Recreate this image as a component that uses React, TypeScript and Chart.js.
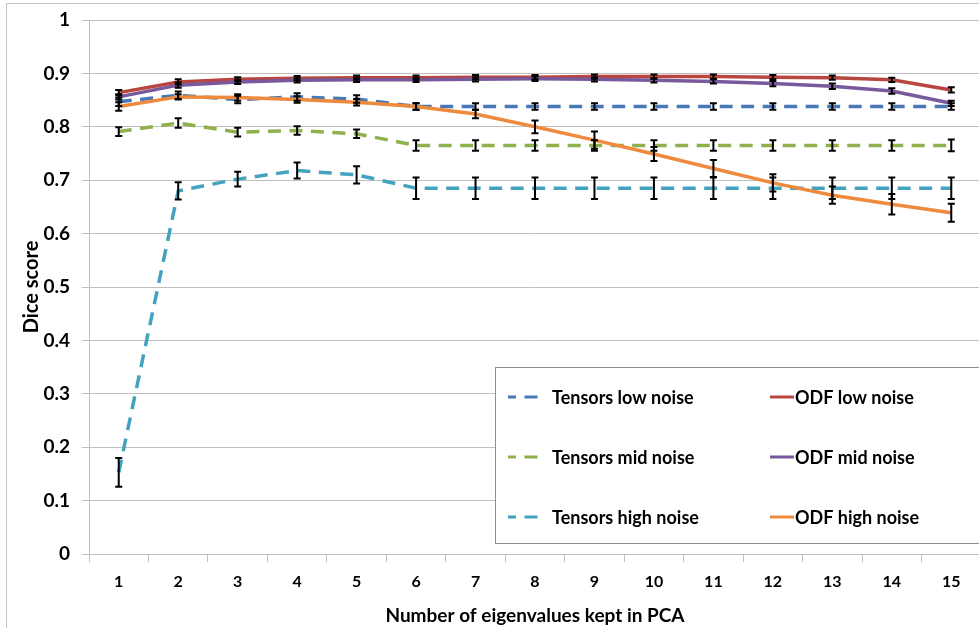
import React, { useEffect, useRef } from "react";
import { Chart, registerables } from "chart.js";

Chart.register(...registerables);

// ---------- data ----------
const categories = ["1", "2", "3", "4", "5", "6", "7", "8", "9", "10", "11", "12", "13", "14", "15"];
const yTickLabels = ["0", "0.1", "0.2", "0.3", "0.4", "0.5", "0.6", "0.7", "0.8", "0.9", "1"];

const tensorsLow = [0.847, 0.859, 0.851, 0.856, 0.852, 0.838, 0.838, 0.838, 0.838, 0.838, 0.838, 0.838, 0.838, 0.838, 0.838];
const tensorsLowErr = [0.008, 0.007, 0.007, 0.007, 0.007, 0.006, 0.006, 0.006, 0.006, 0.006, 0.006, 0.006, 0.006, 0.006, 0.006];

const odfLow = [0.864, 0.884, 0.889, 0.891, 0.892, 0.892, 0.893, 0.893, 0.894, 0.894, 0.894, 0.893, 0.892, 0.888, 0.869];
const odfLowErr = [0.005, 0.005, 0.004, 0.004, 0.004, 0.004, 0.004, 0.004, 0.004, 0.004, 0.004, 0.004, 0.004, 0.004, 0.005];

const tensorsMid = [0.791, 0.807, 0.790, 0.793, 0.787, 0.765, 0.765, 0.765, 0.765, 0.765, 0.765, 0.765, 0.765, 0.765, 0.765];
const tensorsMidErr = [0.008, 0.009, 0.008, 0.008, 0.008, 0.010, 0.010, 0.010, 0.010, 0.010, 0.010, 0.010, 0.010, 0.010, 0.011];

const odfMid = [0.856, 0.878, 0.884, 0.887, 0.888, 0.888, 0.889, 0.890, 0.889, 0.887, 0.885, 0.881, 0.876, 0.867, 0.844];
const odfMidErr = [0.005, 0.005, 0.004, 0.004, 0.004, 0.004, 0.004, 0.004, 0.004, 0.004, 0.004, 0.005, 0.005, 0.005, 0.005];

const tensorsHigh = [0.153, 0.680, 0.702, 0.718, 0.710, 0.685, 0.685, 0.685, 0.685, 0.685, 0.685, 0.685, 0.685, 0.685, 0.685];
const tensorsHighErr = [0.027, 0.016, 0.014, 0.015, 0.016, 0.020, 0.020, 0.020, 0.020, 0.020, 0.020, 0.020, 0.020, 0.020, 0.020];

const odfHigh = [0.838, 0.856, 0.855, 0.851, 0.846, 0.838, 0.824, 0.800, 0.775, 0.749, 0.722, 0.695, 0.672, 0.655, 0.639];
const odfHighErr = [0.008, 0.005, 0.006, 0.006, 0.006, 0.006, 0.008, 0.012, 0.016, 0.013, 0.016, 0.016, 0.016, 0.019, 0.017];

const seriesLabels = [
  "Tensors low noise",
  "ODF low noise",
  "Tensors mid noise",
  "ODF mid noise",
  "Tensors high noise",
  "ODF high noise",
];
const seriesColors = ["#4878B6", "#B8463F", "#90B04C", "#77599C", "#43A3BF", "#EE8A3D"];

const xTitle = "Number of eigenvalues kept in PCA";
const yTitle = "Dice score";

// ---------- styles ----------
const FONT_FAMILY = "Lato, 'Open Sans', sans-serif";
const DASH = [13, 8.5];
const GRID = "#bfbfbf";

const errorBarPlugin = {
  id: "errorBars",
  afterDatasetsDraw(chart: any) {
    const { ctx } = chart;
    const x = chart.scales.x;
    const y = chart.scales.y;
    ctx.save();
    ctx.strokeStyle = "#000";
    ctx.lineWidth = 2;
    ctx.setLineDash([]);
    chart.data.datasets.forEach((ds: any) => {
      ds.data.forEach((v: number, i: number) => {
        const e = ds.errors[i];
        const px = x.getPixelForValue(i);
        const top = y.getPixelForValue(v + e);
        const bot = y.getPixelForValue(v - e);
        ctx.beginPath();
        ctx.moveTo(px, top);
        ctx.lineTo(px, bot);
        ctx.moveTo(px - 3.5, top);
        ctx.lineTo(px + 3.5, top);
        ctx.moveTo(px - 3.5, bot);
        ctx.lineTo(px + 3.5, bot);
        ctx.stroke();
      });
    });
    ctx.restore();
  },
};

const legendBoxPlugin = {
  id: "legendBox",
  afterDraw(chart: any) {
    const { ctx } = chart;
    const boxX = 495.5;
    const boxY = 367.5;
    const boxW = 700;
    const boxH = 176;
    ctx.save();
    ctx.fillStyle = "#ffffff";
    ctx.fillRect(boxX, boxY, boxW, boxH);
    ctx.strokeStyle = "#8c8c8c";
    ctx.lineWidth = 1;
    ctx.strokeRect(boxX, boxY, boxW, boxH);
    const rows = [397, 457, 517];
    ctx.font = `bold 18px ${FONT_FAMILY}`;
    ctx.fillStyle = "#000";
    ctx.textBaseline = "middle";
    ctx.textAlign = "left";
    chart.data.datasets.forEach((ds: any, i: number) => {
      const col = i % 2;
      const row = Math.floor(i / 2);
      const yy = rows[row];
      ctx.strokeStyle = ds.borderColor;
      ctx.lineWidth = 3;
      ctx.lineCap = "butt";
      if (col === 0) {
        ctx.setLineDash(DASH);
        ctx.lineDashOffset = 5;
        ctx.beginPath();
        ctx.moveTo(508, yy);
        ctx.lineTo(540, yy);
        ctx.stroke();
        ctx.setLineDash([]);
        ctx.fillText(ds.label, 552, yy + 1);
      } else {
        ctx.setLineDash([]);
        ctx.beginPath();
        ctx.moveTo(770, yy);
        ctx.lineTo(794, yy);
        ctx.stroke();
        ctx.fillText(ds.label, 795, yy + 1);
      }
    });
    ctx.restore();
  },
};

export default function App() {
  const canvasRef = useRef<HTMLCanvasElement | null>(null);

  useEffect(() => {
    if (!canvasRef.current) return;
    const values = [tensorsLow, odfLow, tensorsMid, odfMid, tensorsHigh, odfHigh];
    const errors = [tensorsLowErr, odfLowErr, tensorsMidErr, odfMidErr, tensorsHighErr, odfHighErr];
    const n = values.length;
    const datasets = values.map((vals, i) => ({
      label: seriesLabels[i],
      data: vals,
      errors: errors[i],
      borderColor: seriesColors[i],
      backgroundColor: seriesColors[i],
      borderWidth: 3.5,
      borderDash: i % 2 === 0 ? DASH : [],
      borderCapStyle: "butt",
      pointRadius: 0,
      tension: 0,
      fill: false,
      order: n - 1 - i,
    }));
    const xTickFont = { family: FONT_FAMILY, size: 16, weight: "bold" as const };
    const yTickFont = { family: FONT_FAMILY, size: 19, weight: "bold" as const };
    const xTitleFont = { family: FONT_FAMILY, size: 19, weight: "bold" as const };
    const yTitleFont = { family: FONT_FAMILY, size: 20, weight: "bold" as const };
    const chart = new Chart(canvasRef.current, {
      type: "line",
      data: { labels: categories, datasets: datasets as any },
      options: {
        responsive: false,
        animation: false,
        layout: { padding: { top: 20, left: 0, right: 0, bottom: 0 } },
        plugins: { legend: { display: false }, tooltip: { enabled: false } },
        scales: {
          x: {
            type: "category",
            offset: true,
            grid: {
              display: true,
              drawOnChartArea: false,
              drawTicks: true,
              tickLength: 8,
              offset: true,
              color: GRID,
            },
            border: { color: GRID },
            ticks: { font: xTickFont, color: "#000", padding: 10, maxRotation: 0, autoSkip: false },
            title: {
              display: true,
              text: xTitle,
              font: xTitleFont,
              color: "#000",
              padding: { top: 0, bottom: 1 },
            },
            afterFit: (s: any) => {
              s.height = 74;
              s.paddingLeft = 0;
              s.paddingRight = 0;
            },
          },
          y: {
            min: 0,
            max: 1,
            ticks: {
              stepSize: 0.1,
              font: yTickFont,
              color: "#000",
              padding: 12,
              callback: (_v: any, idx: number) => yTickLabels[idx],
            },
            grid: { color: GRID, tickLength: 7 },
            border: { color: GRID },
            title: {
              display: true,
              text: yTitle,
              font: yTitleFont,
              color: "#000",
              padding: { top: 20, bottom: 0 },
            },
            afterFit: (s: any) => {
              s.width = 89;
              s.paddingTop = 0;
              s.paddingBottom = 0;
            },
          },
        },
      },
      plugins: [errorBarPlugin, legendBoxPlugin],
    });
    return () => chart.destroy();
  }, []);

  return (
    <div
      style={{
        position: "absolute",
        left: 0,
        top: 0,
        width: 979,
        height: 628,
        overflow: "hidden",
        background: "#fff",
      }}
    >
      <canvas ref={canvasRef} width={981} height={628} style={{ display: "block" }} />
      <div
        style={{
          position: "absolute",
          left: 6,
          top: 3,
          width: 1200,
          height: 1200,
          border: "1px solid #c4c4c4",
          pointerEvents: "none",
        }}
      />
    </div>
  );
}
